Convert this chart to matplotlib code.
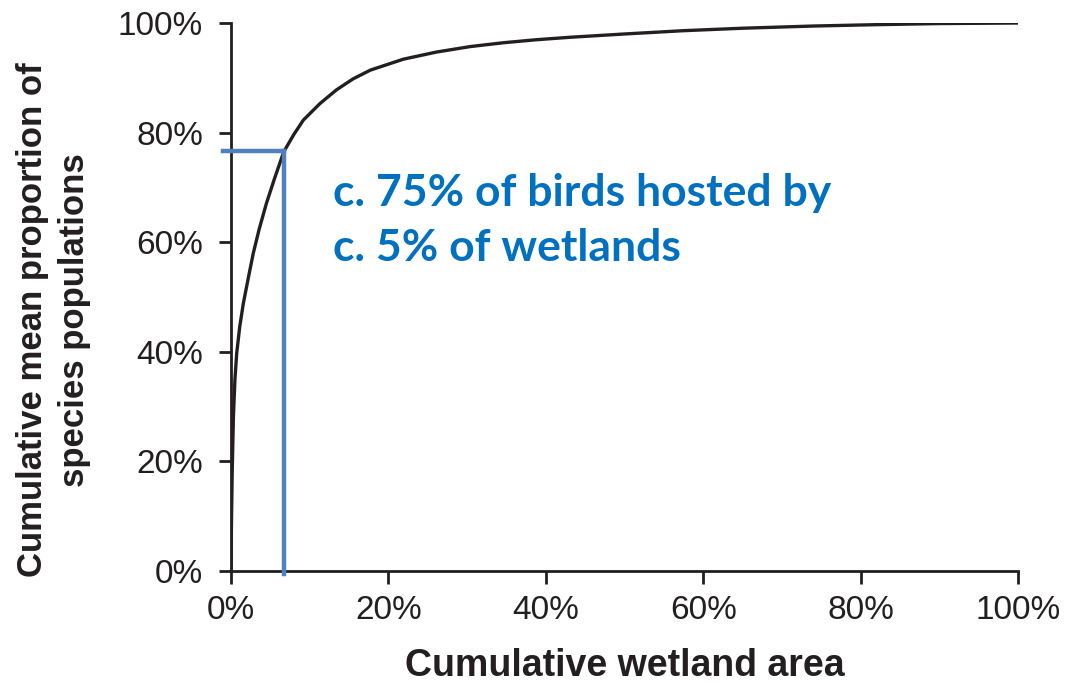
import matplotlib
matplotlib.use("Agg")
import matplotlib.pyplot as plt
from matplotlib.ticker import PercentFormatter

# Values (percent)
wetland_area = [0, 0.05, 0.15, 0.3, 0.5, 0.72, 1.1, 1.56, 2.2, 2.83, 3.6,
                4.5, 5.5, 6.7, 8, 9.2, 11.3, 13.4, 15.5, 17.7, 21.9, 26.1,
                30.4, 34.6, 38.8, 43.1, 50, 57.5, 65, 74, 82, 90, 100]
species_share = [0, 8, 18, 28, 35, 39.7, 44.5, 48.8, 53.5, 58.0, 62.5,
                 67.1, 71.5, 76.5, 79.7, 82.3, 85.3, 87.8, 89.8, 91.4, 93.4,
                 94.7, 95.7, 96.4, 96.95, 97.4, 98.0, 98.6, 99.05, 99.45,
                 99.7, 99.9, 100]

# Highlighted point
mark_x = 6.7
mark_y = 76.6
ticks = [0, 20, 40, 60, 80, 100]

fig = plt.figure(figsize=(10.71, 6.85), dpi=100)
ax = fig.add_axes([0.2157, 0.1664, 0.7348, 0.80])

ax.plot(wetland_area, species_share, color="#231f20", lw=2.4,
        solid_capstyle="round", solid_joinstyle="round", zorder=3)

# Blue guide lines
ax.plot([-1.0, mark_x], [mark_y, mark_y], color="#4f81bd", lw=3.2,
        clip_on=False, zorder=4)
ax.plot([mark_x, mark_x], [mark_y, -0.6], color="#4f81bd", lw=3.2,
        clip_on=False, zorder=4)

ax.text(13.0, 64.0, "c. 75% of birds hosted by\nc. 5% of wetlands",
        color="#0070c0", fontsize=32, fontweight="bold", family="Lato",
        linespacing=1.45, va="center", ha="left")

ax.set_xlim(0, 100)
ax.set_ylim(0, 100)
ax.set_xticks(ticks)
ax.set_yticks(ticks)
ax.xaxis.set_major_formatter(PercentFormatter(decimals=0))
ax.yaxis.set_major_formatter(PercentFormatter(decimals=0))

for side in ["top", "right"]:
    ax.spines[side].set_visible(False)
for side in ["left", "bottom"]:
    ax.spines[side].set_linewidth(2)
    ax.spines[side].set_color("#231f20")

ax.tick_params(axis="both", length=9, width=2, color="#231f20",
               labelsize=24, labelcolor="#231f20")
ax.tick_params(axis="x", pad=8)
ax.tick_params(axis="y", pad=11)
for lab in ax.get_xticklabels() + ax.get_yticklabels():
    lab.set_family("Liberation Sans")

fig.text(625 / 1071, 1 - 666 / 685, "Cumulative wetland area", fontsize=27,
         fontweight="bold", family="Liberation Sans", color="#231f20",
         ha="center", va="center")
fig.text(53.5 / 1071, 1 - 320 / 685,
         "Cumulative mean proportion of\nspecies populations",
         fontsize=25, fontweight="bold", family="Liberation Sans",
         color="#231f20", ha="center", va="center", rotation=90,
         linespacing=1.35)

fig.savefig("out.png", dpi=100)
